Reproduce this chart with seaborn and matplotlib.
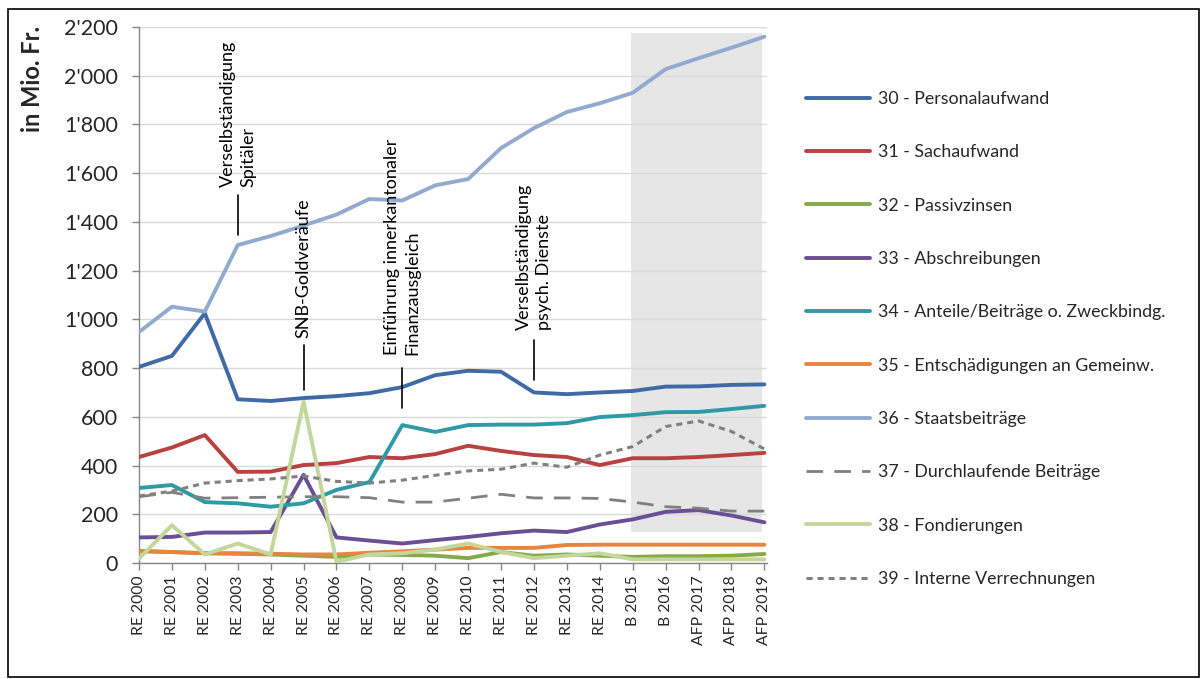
import matplotlib
matplotlib.use("Agg")
import matplotlib.pyplot as plt
import seaborn as sns
import numpy as np
import pandas as pd
from matplotlib.ticker import FuncFormatter, MultipleLocator
from matplotlib.patches import Rectangle
from matplotlib.lines import Line2D

categories = ["RE 2000", "RE 2001", "RE 2002", "RE 2003", "RE 2004", "RE 2005", "RE 2006",
              "RE 2007", "RE 2008", "RE 2009", "RE 2010", "RE 2011", "RE 2012", "RE 2013",
              "RE 2014", "B 2015", "B 2016", "AFP 2017", "AFP 2018", "AFP 2019"]

s30 = [805, 850, 1025, 672, 665, 677, 685, 697, 722, 771, 789, 785, 700, 693, 700, 706, 724, 725, 731, 733]
s31 = [435, 474, 525, 374, 375, 402, 410, 435, 430, 447, 481, 460, 443, 435, 402, 430, 430, 435, 443, 452]
s32 = [50, 45, 40, 38, 35, 30, 25, 35, 33, 30, 20, 45, 30, 35, 30, 25, 28, 28, 30, 37]
s33 = [105, 107, 125, 125, 127, 362, 105, 92, 80, 94, 107, 122, 133, 127, 158, 179, 210, 217, 195, 167]
s34 = [308, 320, 250, 245, 231, 245, 300, 332, 566, 538, 566, 568, 568, 574, 599, 607, 619, 620, 632, 645]
s35 = [48, 45, 40, 40, 38, 35, 35, 42, 48, 55, 62, 62, 62, 74, 75, 75, 75, 75, 75, 75]
s36 = [948, 1052, 1032, 1305, 1342, 1385, 1430, 1494, 1488, 1550, 1576, 1703, 1785, 1851, 1887, 1930, 2027, 2072, 2115, 2160]
s37 = [272, 290, 266, 268, 270, 272, 272, 268, 250, 250, 266, 282, 267, 267, 265, 250, 231, 225, 213, 213]
s38 = [18, 155, 35, 80, 35, 662, 5, 35, 40, 55, 80, 45, 20, 30, 40, 15, 15, 15, 15, 15]
s39 = [275, 295, 328, 338, 345, 357, 335, 328, 340, 360, 378, 385, 410, 393, 443, 478, 560, 583, 540, 468]

labels = ["30 - Personalaufwand", "31 - Sachaufwand", "32 - Passivzinsen", "33 - Abschreibungen",
          "34 - Anteile/Beiträge o. Zweckbindg.", "35 - Entschädigungen an Gemeinw.",
          "36 - Staatsbeiträge", "37 - Durchlaufende Beiträge", "38 - Fondierungen",
          "39 - Interne Verrechnungen"]

annotations = ["Verselbständigung\nSpitäler", "SNB-Goldveräufe",
               "Einführung innerkantonaler\nFinanzausgleich", "Verselbständigung\npsych. Dienste"]
annot_cat = ["RE 2003", "RE 2005", "RE 2008", "RE 2012"]
annot_line = [(1346, 1510), (710, 895), (636, 800), (751, 915)]
annot_text_y = [1545, 925, 855, 958]

sns.set_theme(style="white")
plt.rcParams['font.family'] = ['Lato', 'DejaVu Sans']

fig = plt.figure(figsize=(12.01, 6.79), dpi=100)
ax = fig.add_axes([139/1201, 1-563/679, 628/1201, 536/679])

x = np.arange(len(categories))
series = [s30, s31, s32, s33, s34, s35, s36, s37, s38, s39]
colors = ["#3F6AA6", "#B8423F", "#86A94A", "#6A4F94", "#2E9AA6", "#E9843C",
          "#93AAD0", "#808080", "#C3D69B", "#808080"]
styles = ["-", "-", "-", "-", "-", "-", "-", (0, (6, 4)), "-", (0, (2, 1.6))]
widths = [2.8, 2.8, 2.8, 2.8, 2.8, 2.8, 2.8, 2.0, 2.8, 2.2]

df = pd.DataFrame({"x": np.tile(x, len(series)),
                   "value": np.concatenate(series),
                   "series": np.repeat(labels, len(categories))})

# shaded forecast region
ax.add_patch(Rectangle((14.95, 128), 18.92 - 14.95, 2175 - 128, facecolor="#E6E6E6",
                       edgecolor="none", zorder=0.2))

draw_order = [6, 0, 4, 1, 9, 7, 3, 5, 2, 8]
for i in draw_order:
    sub = df[df["series"] == labels[i]]
    sns.lineplot(data=sub, x="x", y="value", ax=ax, color=colors[i], linewidth=widths[i],
                 linestyle=styles[i], legend=False, zorder=3 + i * 0.01)

ax.set_xlim(0, 19.08)
ax.set_ylim(0, 2200)
ax.yaxis.set_major_locator(MultipleLocator(200))
ax.yaxis.set_major_formatter(FuncFormatter(lambda v, p: f"{v:,.0f}".replace(",", "'")))
ax.set_xticks(x)
ax.set_xticklabels(categories, rotation=90, fontsize=11.3)
ax.tick_params(axis="y", labelsize=15.5, length=5, width=1, color="#868686", left=True, pad=10)
ax.tick_params(axis="x", length=5, width=1, color="#868686", bottom=True, pad=4)
ax.grid(axis="y", color="#D9D9D9", linewidth=1)
ax.grid(axis="x", visible=False)
ax.set_axisbelow(True)
for sp in ["top", "right"]:
    ax.spines[sp].set_visible(False)
for sp in ["left", "bottom"]:
    ax.spines[sp].set_color("#868686")
    ax.spines[sp].set_linewidth(1)
ax.set_xlabel("")
ax.set_ylabel("")

# annotations
for txt, cat, (y0, y1), ty in zip(annotations, annot_cat, annot_line, annot_text_y):
    xi = categories.index(cat)
    ax.plot([xi, xi], [y0, y1], color="black", linewidth=1.2, zorder=5)
    ax.text(xi, ty, txt, rotation=90, ha="center", va="bottom", multialignment="left",
            fontsize=13, linespacing=1.35, color="black", zorder=6)

fig.text(33/1201, 1 - 79/679, "in Mio. Fr.", rotation=90, ha="center", va="center",
         fontsize=17, fontweight="bold")

handles = [Line2D([0], [0], color=colors[i], linewidth=widths[i], linestyle=styles[i]) for i in range(10)]
fig.legend(handles, labels, loc="upper left", bbox_to_anchor=(806/1201, 1 - 91/679),
           frameon=False, fontsize=12.8, handlelength=3.6, handletextpad=0.45,
           labelspacing=2.1, borderpad=0, borderaxespad=0)

fig.add_artist(Rectangle((8/1201, 2/679), 1191/1201, 668/679, transform=fig.transFigure,
                         facecolor="none", edgecolor="black", linewidth=1.2))

fig.savefig("out.png", dpi=100)
